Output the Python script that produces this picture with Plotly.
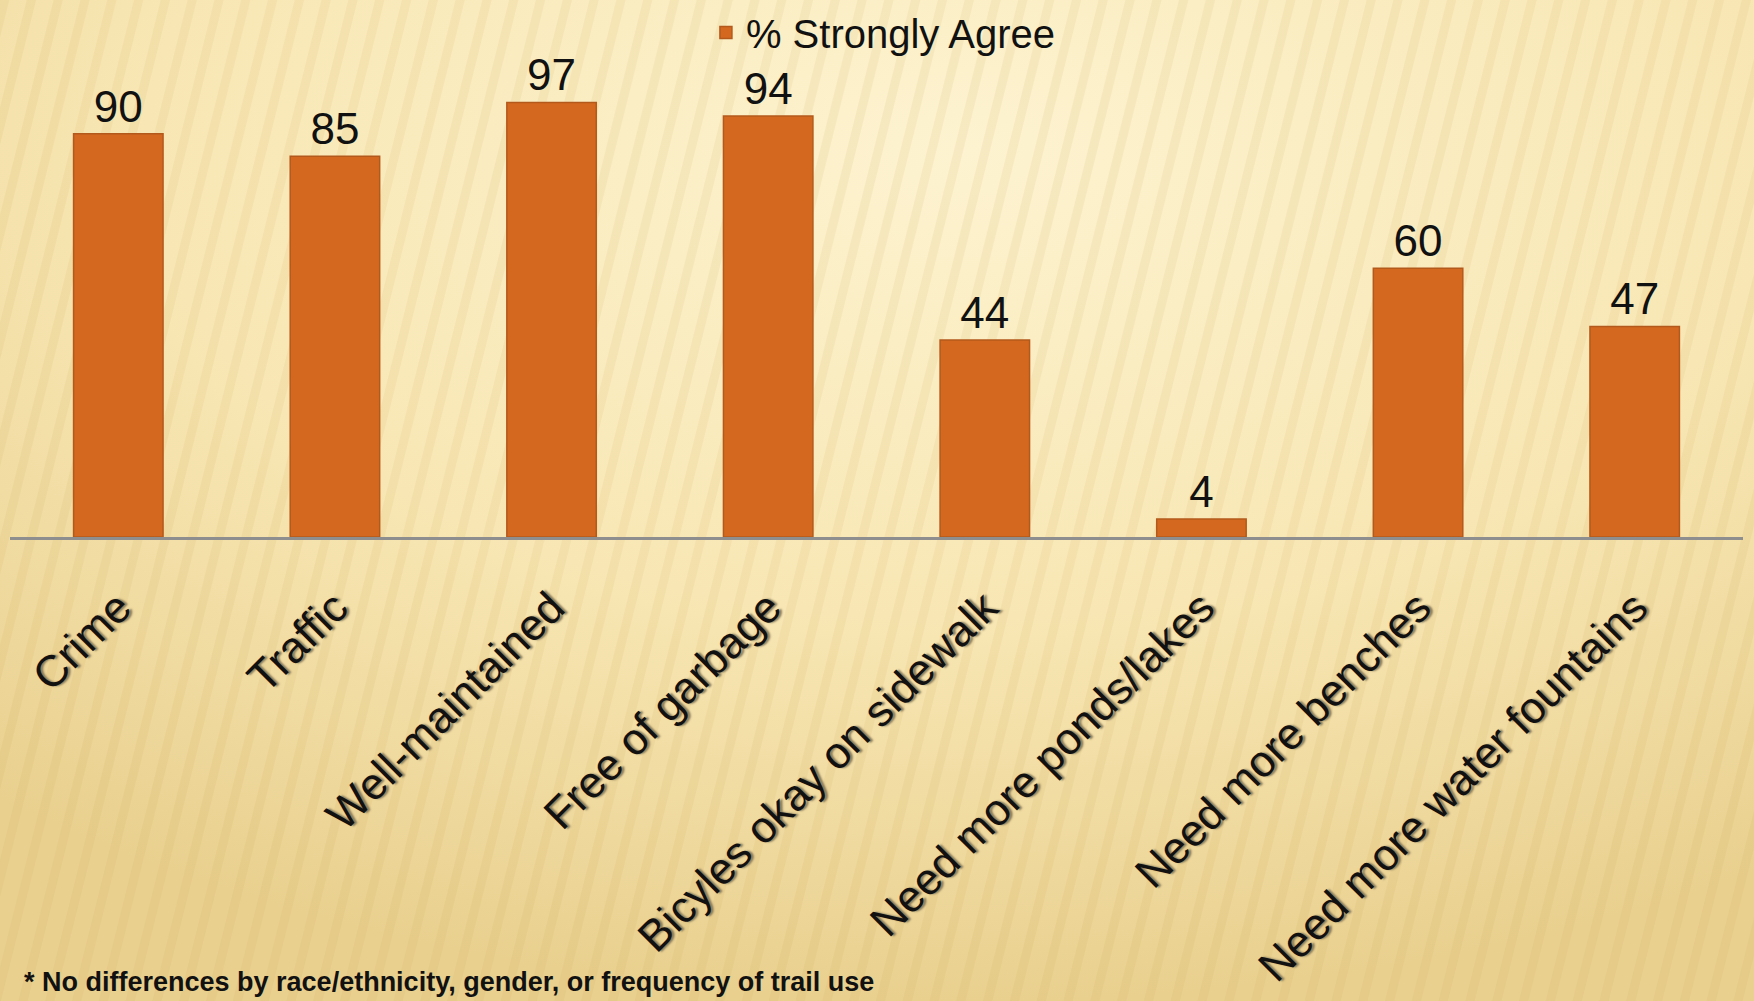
import base64
import plotly.graph_objects as go

categories = ["Crime", "Traffic", "Well-maintained", "Free of garbage",
              "Bicyles okay on sidewalk", "Need more ponds/lakes",
              "Need more benches", "Need more water fountains"]
strongly_agree = [90, 85, 97, 94, 44, 4, 60, 47]
series_name = "% Strongly Agree"
footnote = "* No differences by race/ethnicity, gender, or frequency of trail use"

FONT = "Liberation Sans, Arial, sans-serif"

# decorative background texture (gradient + faint slanted stripes)
svg = """<svg xmlns='http://www.w3.org/2000/svg' width='1754' height='1001'>
<defs>
<radialGradient id='g' cx='0.55' cy='0.15' r='0.85'>
<stop offset='0' stop-color='#FDF3D0'/>
<stop offset='0.55' stop-color='#F8E7B4'/>
<stop offset='1' stop-color='#E9D08F'/>
</radialGradient>
<pattern id='p' width='26' height='26' patternUnits='userSpaceOnUse' patternTransform='rotate(14)'>
<rect x='0' y='0' width='9' height='26' fill='#C9A24A' fill-opacity='0.10'/>
</pattern>
</defs>
<rect width='1754' height='1001' fill='url(#g)'/>
<rect width='1754' height='1001' fill='url(#p)'/>
</svg>"""
bg_uri = "data:image/svg+xml;base64," + base64.b64encode(svg.encode()).decode()

fig = go.Figure()
fig.add_trace(go.Bar(
    x=categories, y=strongly_agree, name=series_name,
    marker=dict(color="#D4681F", line=dict(color="#B4591C", width=1.5)),
    text=[str(v) for v in strongly_agree], textposition="outside",
    textfont=dict(family=FONT, size=44, color="#111111"),
    constraintext="none", cliponaxis=False,
))

fig.update_layout(
    width=1754, height=1001,
    paper_bgcolor="#F6E6B4", plot_bgcolor="rgba(0,0,0,0)",
    margin=dict(l=10, r=11, t=89, b=464, autoexpand=False),
    bargap=0.587,
    showlegend=True,
    legend=dict(orientation="h", x=0.504, xanchor="center", y=1.0, yanchor="top",
                yref="container", bgcolor="rgba(0,0,0,0)",
                font=dict(family=FONT, size=40, color="#111111")),
    xaxis=dict(showgrid=False, showline=True, linecolor="#8E8E8E", linewidth=3,
               tickangle=-45, ticks="outside", ticklen=24, tickcolor="rgba(0,0,0,0)",
               automargin=False,
               tickfont=dict(family=FONT, size=44, color="#111111",
                             shadow="2px 2px 2px #8a7a5a")),
    yaxis=dict(range=[0, 100], visible=False, fixedrange=True),
    images=[dict(source=bg_uri, xref="paper", yref="paper", x=-10/1733, y=1 + 89/448,
                 sizex=1754/1733, sizey=1001/448, xanchor="left", yanchor="top",
                 sizing="stretch", layer="below")],
    annotations=[dict(text=footnote, xref="paper", yref="paper", x=0.0, y=0,
                      xanchor="left", yanchor="bottom", yshift=-462, xshift=12,
                      showarrow=False,
                      font=dict(family=FONT, size=27, color="#111111", weight="bold"))],
)

fig.write_html("out.html", config={"displayModeBar": False})
with open("out.html", "r", encoding="utf-8") as f:
    html = f.read()
html = html.replace("<head>", "<head><style>html,body{margin:0;padding:0;overflow:hidden;}</style>", 1)
with open("out.html", "w", encoding="utf-8") as f:
    f.write(html)
